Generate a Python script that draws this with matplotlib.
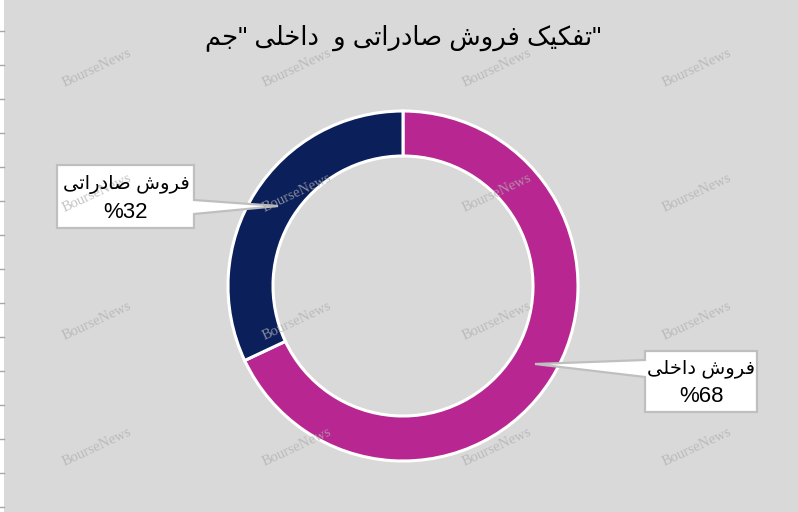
import matplotlib
matplotlib.use('Agg')
import matplotlib.pyplot as plt
from matplotlib.patches import Polygon, Rectangle

# Data
labels = ['فروش داخلی', 'فروش صادراتی']
values = [68, 32]
colors = ['#b82791', '#0b1f5b']
title = '"تفکیک فروش صادراتی و  داخلی "جم'

W, H = 798, 512
bg = '#d9d9d9'

# minimal Persian shaping (presentation forms) since matplotlib has no bidi
FORMS = {
    'ت': ('\uFE95', '\uFE96', '\uFE97', '\uFE98'),
    'ف': ('\uFED1', '\uFED2', '\uFED3', '\uFED4'),
    'ک': ('\uFB8E', '\uFB8F', '\uFB90', '\uFB91'),
    'ی': ('\uFBFC', '\uFBFD', '\uFBFE', '\uFBFF'),
    'ش': ('\uFEB5', '\uFEB6', '\uFEB7', '\uFEB8'),
    'ص': ('\uFEB9', '\uFEBA', '\uFEBB', '\uFEBC'),
    'خ': ('\uFEA5', '\uFEA6', '\uFEA7', '\uFEA8'),
    'ل': ('\uFEDD', '\uFEDE', '\uFEDF', '\uFEE0'),
    'ج': ('\uFE9D', '\uFE9E', '\uFE9F', '\uFEA0'),
    'م': ('\uFEE1', '\uFEE2', '\uFEE3', '\uFEE4'),
    'ا': ('\uFE8D', '\uFE8E'),
    'د': ('\uFEA9', '\uFEAA'),
    'ر': ('\uFEAD', '\uFEAE'),
    'و': ('\uFEED', '\uFEEE'),
}


def shape(s):
    out = []
    for i, c in enumerate(s):
        if c not in FORMS:
            out.append(c)
            continue
        prev = s[i - 1] if i > 0 else ''
        nxt = s[i + 1] if i + 1 < len(s) else ''
        join_prev = prev in FORMS and len(FORMS[prev]) == 4
        join_next = len(FORMS[c]) == 4 and nxt in FORMS
        f = FORMS[c]
        if join_prev and join_next:
            out.append(f[3])
        elif join_prev:
            out.append(f[1])
        elif join_next:
            out.append(f[2])
        else:
            out.append(f[0])
    return ''.join(out)[::-1]


def Y(y):
    return H - y


fig = plt.figure(figsize=(W / 100, H / 100), dpi=100, facecolor=bg)
ax = fig.add_axes([0, 0, 1, 1])
ax.set_facecolor(bg)

cx, cy, r = 403, 286, 175
ax.pie(values, colors=colors, startangle=90, counterclock=False,
       radius=r, center=(cx, Y(cy)),
       wedgeprops=dict(width=45, edgecolor='white', linewidth=2.2))

ax.set_xlim(0, W)
ax.set_ylim(0, H)
ax.set_aspect('equal')
ax.axis('off')

# left edge strip with ticks
ax.add_patch(Rectangle((0, 0), 4, H, facecolor='white', edgecolor='none', zorder=1))
for ty in range(31, H, 34):
    ax.plot([0, 4], [Y(ty), Y(ty)], color='#a6a6a6', lw=1, zorder=2)

# watermark
for wy in [68, 193, 321, 447]:
    for wx in [97, 297, 497, 697]:
        ax.text(wx, Y(wy), 'BourseNews', fontsize=10.5, family='Liberation Serif',
                color='#b0b0b0', alpha=0.75, rotation=25, ha='center', va='center',
                zorder=6)

fam = ['Liberation Sans', 'DejaVu Sans']

# callouts
box_ec = '#bfbfbf'
left_pts = [(57, 165), (194, 165), (194, 200), (278, 206), (194, 214),
            (194, 228), (57, 228)]
right_pts = [(645, 351), (757, 351), (757, 412), (645, 412), (645, 377),
             (535, 364), (645, 360)]
for pts in [left_pts, right_pts]:
    ax.add_patch(Polygon([(x, Y(y)) for x, y in pts], closed=True,
                         facecolor='white', edgecolor=box_ec, lw=1.6, zorder=5))

ax.text(126, Y(185), shape(labels[1]), fontsize=14, family=fam,
        ha='center', va='center', zorder=7)
ax.text(126, Y(212), '%' + str(values[1]), fontsize=16, family=fam,
        ha='center', va='center', zorder=7)
ax.text(701, Y(369), shape(labels[0]), fontsize=14, family=fam,
        ha='center', va='center', zorder=7)
ax.text(701, Y(396), '%' + str(values[0]), fontsize=16, family=fam,
        ha='center', va='center', zorder=7)

# title
ax.text(403, Y(38), shape(title), fontsize=18.5, family=fam,
        ha='center', va='center', zorder=7)

fig.savefig('out.png', dpi=100, facecolor=bg)
